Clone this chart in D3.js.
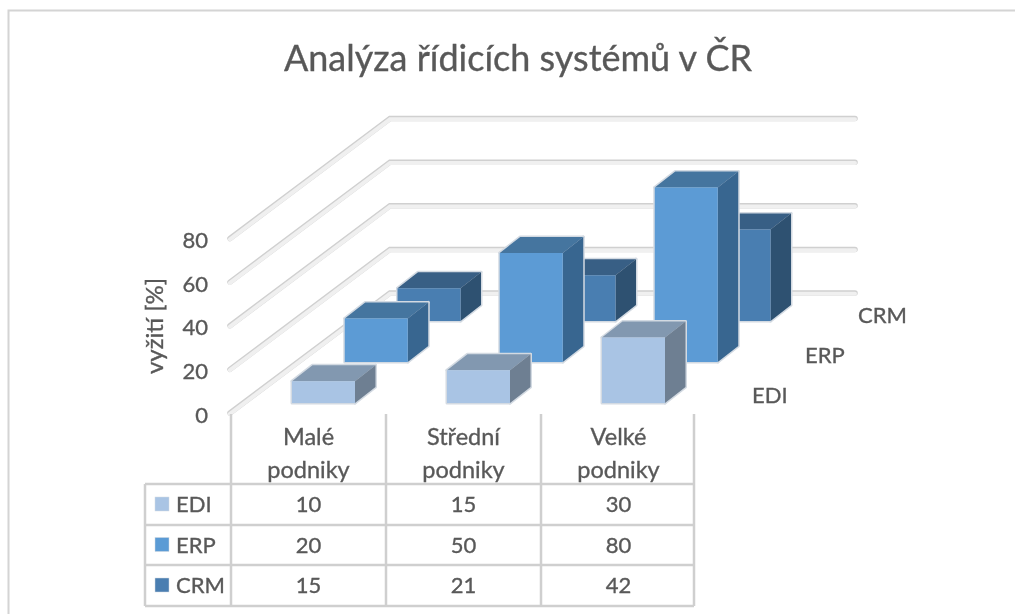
<!DOCTYPE html>
<html>
<head>
<meta charset="utf-8">
<title>Analýza řídicích systémů v ČR</title>
<script src="https://cdn.jsdelivr.net/npm/d3@7"></script>
<style>
  html, body { margin: 0; padding: 0; background: #fff; }
  svg { display: block; }
  text { font-family: Lato, "Open Sans", sans-serif; fill: #595959; stroke: #595959; stroke-width: 0.35px; }
</style>
</head>
<body>
<div id="graph-container"></div>
<script>
// Data
var categories = ["Malé podniky", "Střední podniky", "Velké podniky"];
var seriesNames = ["EDI", "ERP", "CRM"];
var ediValues = [10, 15, 30];
var erpValues = [20, 50, 80];
var crmValues = [15, 21, 42];
var valueTicks = [0, 20, 40, 60, 80];
var title = "Analýza řídicích systémů v ČR";
var yTitle = "vyžití [%]";

var seriesValues = { EDI: ediValues, ERP: erpValues, CRM: crmValues };
var faceColors = {
  EDI: { front: "#a9c4e4", top: "#8298b0", side: "#6e7f92" },
  ERP: { front: "#5b9bd5", top: "#44749f", side: "#386690" },
  CRM: { front: "#4a7eb1", top: "#375e85", side: "#2e5171" }
};

var svgWidth = 1015;
var svgHeight = 614;
var svg = d3.select("#graph-container").append("svg")
  .attr("width", svgWidth)
  .attr("height", svgHeight);

// The source picture is a soft raster, so everything gets a slight blur
svg.append("defs").append("filter")
  .attr("id", "soft")
  .append("feGaussianBlur")
  .attr("stdDeviation", 0.45);

// Chart frame, only top and left edges show in the picture
svg.append("path")
  .attr("d", "M8.5,614V10.5H1015")
  .attr("fill", "none")
  .attr("stroke", "#d4d4d4")
  .attr("stroke-width", 2);

svg.append("text")
  .attr("x", 518)
  .attr("y", 71)
  .attr("text-anchor", "middle")
  .attr("filter", "url(#soft)")
  .style("font-size", "36px")
  .text(title);

// Scales
var floorLeft = 231;
var floorBottom = 413;
var xScale = d3.scaleBand().domain(categories).range([floorLeft, 696]);
var barHeight = d3.scaleLinear().domain([0, 80]).range([0, 174.5]);
var yAxisScale = d3.scaleLinear().domain([0, 80]).range([floorBottom, 238.5]);
// Oblique depth axis: each series sits further right and further up
var depthX = d3.scalePoint().domain(seriesNames).range([15, 120.5]);
var depthY = d3.scalePoint().domain(seriesNames).range([10, 92]);
var wallX = 159;     // floor depth, horizontal
var wallY = 120;     // floor depth, vertical
var barWidth = 63;
var barDepthX = 20.5;
var barDepthY = 16;

// Gridlines: left wall plus back wall
var plot = svg.append("g").attr("filter", "url(#soft)");
var gridPath = function (v) {
  var y = yAxisScale(v);
  return "M" + (floorLeft - 1) + "," + y + "L" + (floorLeft + wallX) + "," + (y - wallY) + "H855";
};
plot.selectAll("path.grid-edge")
  .data(valueTicks)
  .join("path")
  .attr("class", "grid-edge")
  .attr("d", gridPath)
  .attr("fill", "none")
  .attr("stroke", "#d0d0d0")
  .attr("stroke-width", 5.5)
  .attr("stroke-linecap", "round");
plot.selectAll("path.grid-fill")
  .data(valueTicks)
  .join("path")
  .attr("class", "grid-fill")
  .attr("d", gridPath)
  .attr("fill", "none")
  .attr("stroke", "#f0f0f0")
  .attr("stroke-width", 4)
  .attr("stroke-linecap", "round")
  .attr("transform", "translate(0,0.8)");

// Table grid sits under the bars
var tableLeft = 145;
var tableRight = 694;
var tableHeaderTop = 414;
var rowLines = [484, 525, 565, 606];
var colLines = xScale.domain().map(function (c) { return xScale(c); }).concat([xScale.range()[1] - 2]);
var tableGrid = svg.append("g")
  .attr("filter", "url(#soft)")
  .attr("stroke", "#cfcfcf")
  .attr("stroke-width", 2.5)
  .attr("fill", "none");
tableGrid.selectAll("line.col")
  .data(colLines)
  .join("line")
  .attr("x1", function (d) { return d; })
  .attr("x2", function (d) { return d; })
  .attr("y1", tableHeaderTop)
  .attr("y2", rowLines[3]);
tableGrid.selectAll("line.row")
  .data(rowLines)
  .join("line")
  .attr("x1", tableLeft)
  .attr("x2", tableRight)
  .attr("y1", function (d) { return d; })
  .attr("y2", function (d) { return d; });
tableGrid.append("line")
  .attr("x1", tableLeft)
  .attr("x2", tableLeft)
  .attr("y1", rowLines[0])
  .attr("y2", rowLines[3]);

// Build the three visible faces of one bar
function barFaces(name, category, value) {
  var x0 = xScale(category) + xScale.bandwidth() / 2 - barWidth / 2 + depthX(name);
  var x1 = x0 + barWidth;
  var bottom = floorBottom - depthY(name);
  var top = bottom - barHeight(value);
  return [
    { face: "top", pts: [[x0, top], [x1, top], [x1 + barDepthX, top - barDepthY], [x0 + barDepthX, top - barDepthY]] },
    { face: "side", pts: [[x1, top], [x1 + barDepthX, top - barDepthY], [x1 + barDepthX, bottom - barDepthY], [x1, bottom]] },
    { face: "front", pts: [[x0, top], [x1, top], [x1, bottom], [x0, bottom]] }
  ];
}

// Back row first so nearer bars cover it
var bars = plot.append("g");
seriesNames.slice().reverse().forEach(function (name) {
  categories.forEach(function (category, i) {
    var g = bars.append("g");
    var faces = barFaces(name, category, seriesValues[name][i]);
    // pale outline around the whole box
    g.selectAll("polygon.outline")
      .data(faces)
      .join("polygon")
      .attr("class", "outline")
      .attr("points", function (d) { return d.pts.join(" "); })
      .attr("fill", "none")
      .attr("stroke", "#d3dae2")
      .attr("stroke-width", 3)
      .attr("stroke-linejoin", "round");
    g.selectAll("polygon.face")
      .data(faces)
      .join("polygon")
      .attr("class", "face")
      .attr("points", function (d) { return d.pts.join(" "); })
      .attr("fill", function (d) { return faceColors[name][d.face]; });
  });
});

var labels = svg.append("g").attr("filter", "url(#soft)");

// Value axis
var yAxis = d3.axisLeft(yAxisScale)
  .tickValues(valueTicks)
  .tickSize(0)
  .tickPadding(0);
var yAxisGroup = labels.append("g")
  .attr("transform", "translate(208,2)")
  .call(yAxis);
yAxisGroup.select(".domain").remove();
yAxisGroup.selectAll("text")
  .style("font-size", "22px")
  .style("font-family", "Lato, sans-serif");

labels.append("text")
  .attr("transform", "translate(163,326) rotate(-90)")
  .attr("text-anchor", "middle")
  .style("font-size", "24px")
  .text(yTitle);

// Depth axis labels
var depthLabelX = d3.scalePoint().domain(seriesNames).range([752, 858]);
var depthLabelY = d3.scalePoint().domain(seriesNames).range([403, 323]);
labels.selectAll("text.depth-label")
  .data(seriesNames)
  .join("text")
  .attr("class", "depth-label")
  .attr("x", function (d) { return depthLabelX(d); })
  .attr("y", function (d) { return depthLabelY(d); })
  .style("font-size", "22px")
  .text(function (d) { return d; });

// Category header, two lines each
var headerLines = categories.map(function (c) { return c.split(" "); });
categories.forEach(function (c, i) {
  labels.selectAll("text.head" + i)
    .data(headerLines[i])
    .join("text")
    .attr("class", "head" + i)
    .attr("x", xScale(c) + xScale.bandwidth() / 2)
    .attr("y", function (d, j) { return 445 + j * 33; })
    .attr("text-anchor", "middle")
    .style("font-size", "23.5px")
    .text(function (d) { return d; });
});

// Data table rows with legend keys
var rowBaseline = d3.scalePoint().domain(seriesNames).range([512, 593]);
seriesNames.forEach(function (name) {
  var base = rowBaseline(name);
  svg.append("rect")
    .attr("x", 155)
    .attr("y", base - 15)
    .attr("width", 14)
    .attr("height", 14)
    .attr("fill", faceColors[name].front)
    .attr("stroke", "#d3dae2")
    .attr("stroke-width", 0.5);
  labels.append("text")
    .attr("x", 176)
    .attr("y", base)
    .style("font-size", "22px")
    .text(name);
  labels.selectAll("text.val" + name)
    .data(seriesValues[name])
    .join("text")
    .attr("class", "val" + name)
    .attr("x", function (d, i) { return xScale(categories[i]) + xScale.bandwidth() / 2; })
    .attr("y", base)
    .attr("text-anchor", "middle")
    .style("font-size", "22px")
    .text(function (d) { return d; });
});
</script>
</body>
</html>
